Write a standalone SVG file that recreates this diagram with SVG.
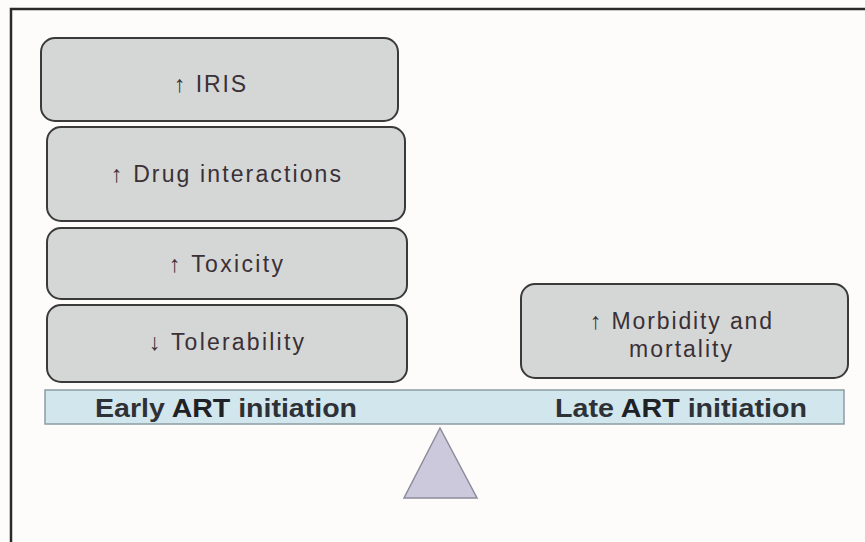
<svg xmlns="http://www.w3.org/2000/svg" width="865" height="542" viewBox="0 0 865 542">
<style>
.box{fill:#d5d7d7;stroke:#3a3a3a;stroke-width:2}
.t{font-family:"Liberation Sans",Arial,sans-serif;font-size:23px;fill:#3a3035}
.b{font-family:"Liberation Sans",Arial,sans-serif;font-size:26px;font-weight:bold;fill:#2e3236}
</style>
<rect x="0" y="0" width="865" height="542" fill="#fefcfb"/>
<path d="M11,542 V9 H865" fill="none" stroke="#2a2a2a" stroke-width="2.5"/>
<g id="iris">
<rect class="box" x="41" y="38" width="357" height="83" rx="14"/>
<text class="t" x="174" y="92" textLength="72" lengthAdjust="spacing">↑ IRIS</text>
</g>
<g id="drug">
<rect class="box" x="47" y="127" width="358" height="94" rx="14"/>
<text class="t" x="111" y="182" textLength="230" lengthAdjust="spacing">↑ Drug interactions</text>
</g>
<g id="toxicity">
<rect class="box" x="47" y="228" width="360" height="71" rx="14"/>
<text class="t" x="169" y="272" textLength="114" lengthAdjust="spacing">↑ Toxicity</text>
</g>
<g id="tolerability">
<rect class="box" x="47" y="305" width="360" height="77" rx="14"/>
<text class="t" x="149" y="350" textLength="155" lengthAdjust="spacing">↓ Tolerability</text>
</g>
<g id="morbidity">
<rect class="box" x="521" y="284" width="327" height="94" rx="14"/>
<text class="t" x="590" y="329" textLength="182" lengthAdjust="spacing">↑ Morbidity and</text>
<text class="t" x="629" y="357" textLength="103" lengthAdjust="spacing">mortality</text>
</g>
<g id="beam">
<rect x="45" y="390" width="799" height="34" fill="#d2e6ee" stroke="#8d9ca2" stroke-width="1.5"/>
<text class="b" x="95" y="417" textLength="262" lengthAdjust="spacingAndGlyphs">Early <tspan fill="#1e2226">ART</tspan> initiation</text>
<text class="b" x="555" y="417" textLength="252" lengthAdjust="spacingAndGlyphs">Late <tspan fill="#1e2226">ART</tspan> initiation</text>
</g>
<g id="fulcrum">
<polygon points="440,428 477,498 404,498" fill="#cdc9dc" stroke="#8c8c9a" stroke-width="1.5"/>
</g>
<g id="connectors"></g>
</svg>
